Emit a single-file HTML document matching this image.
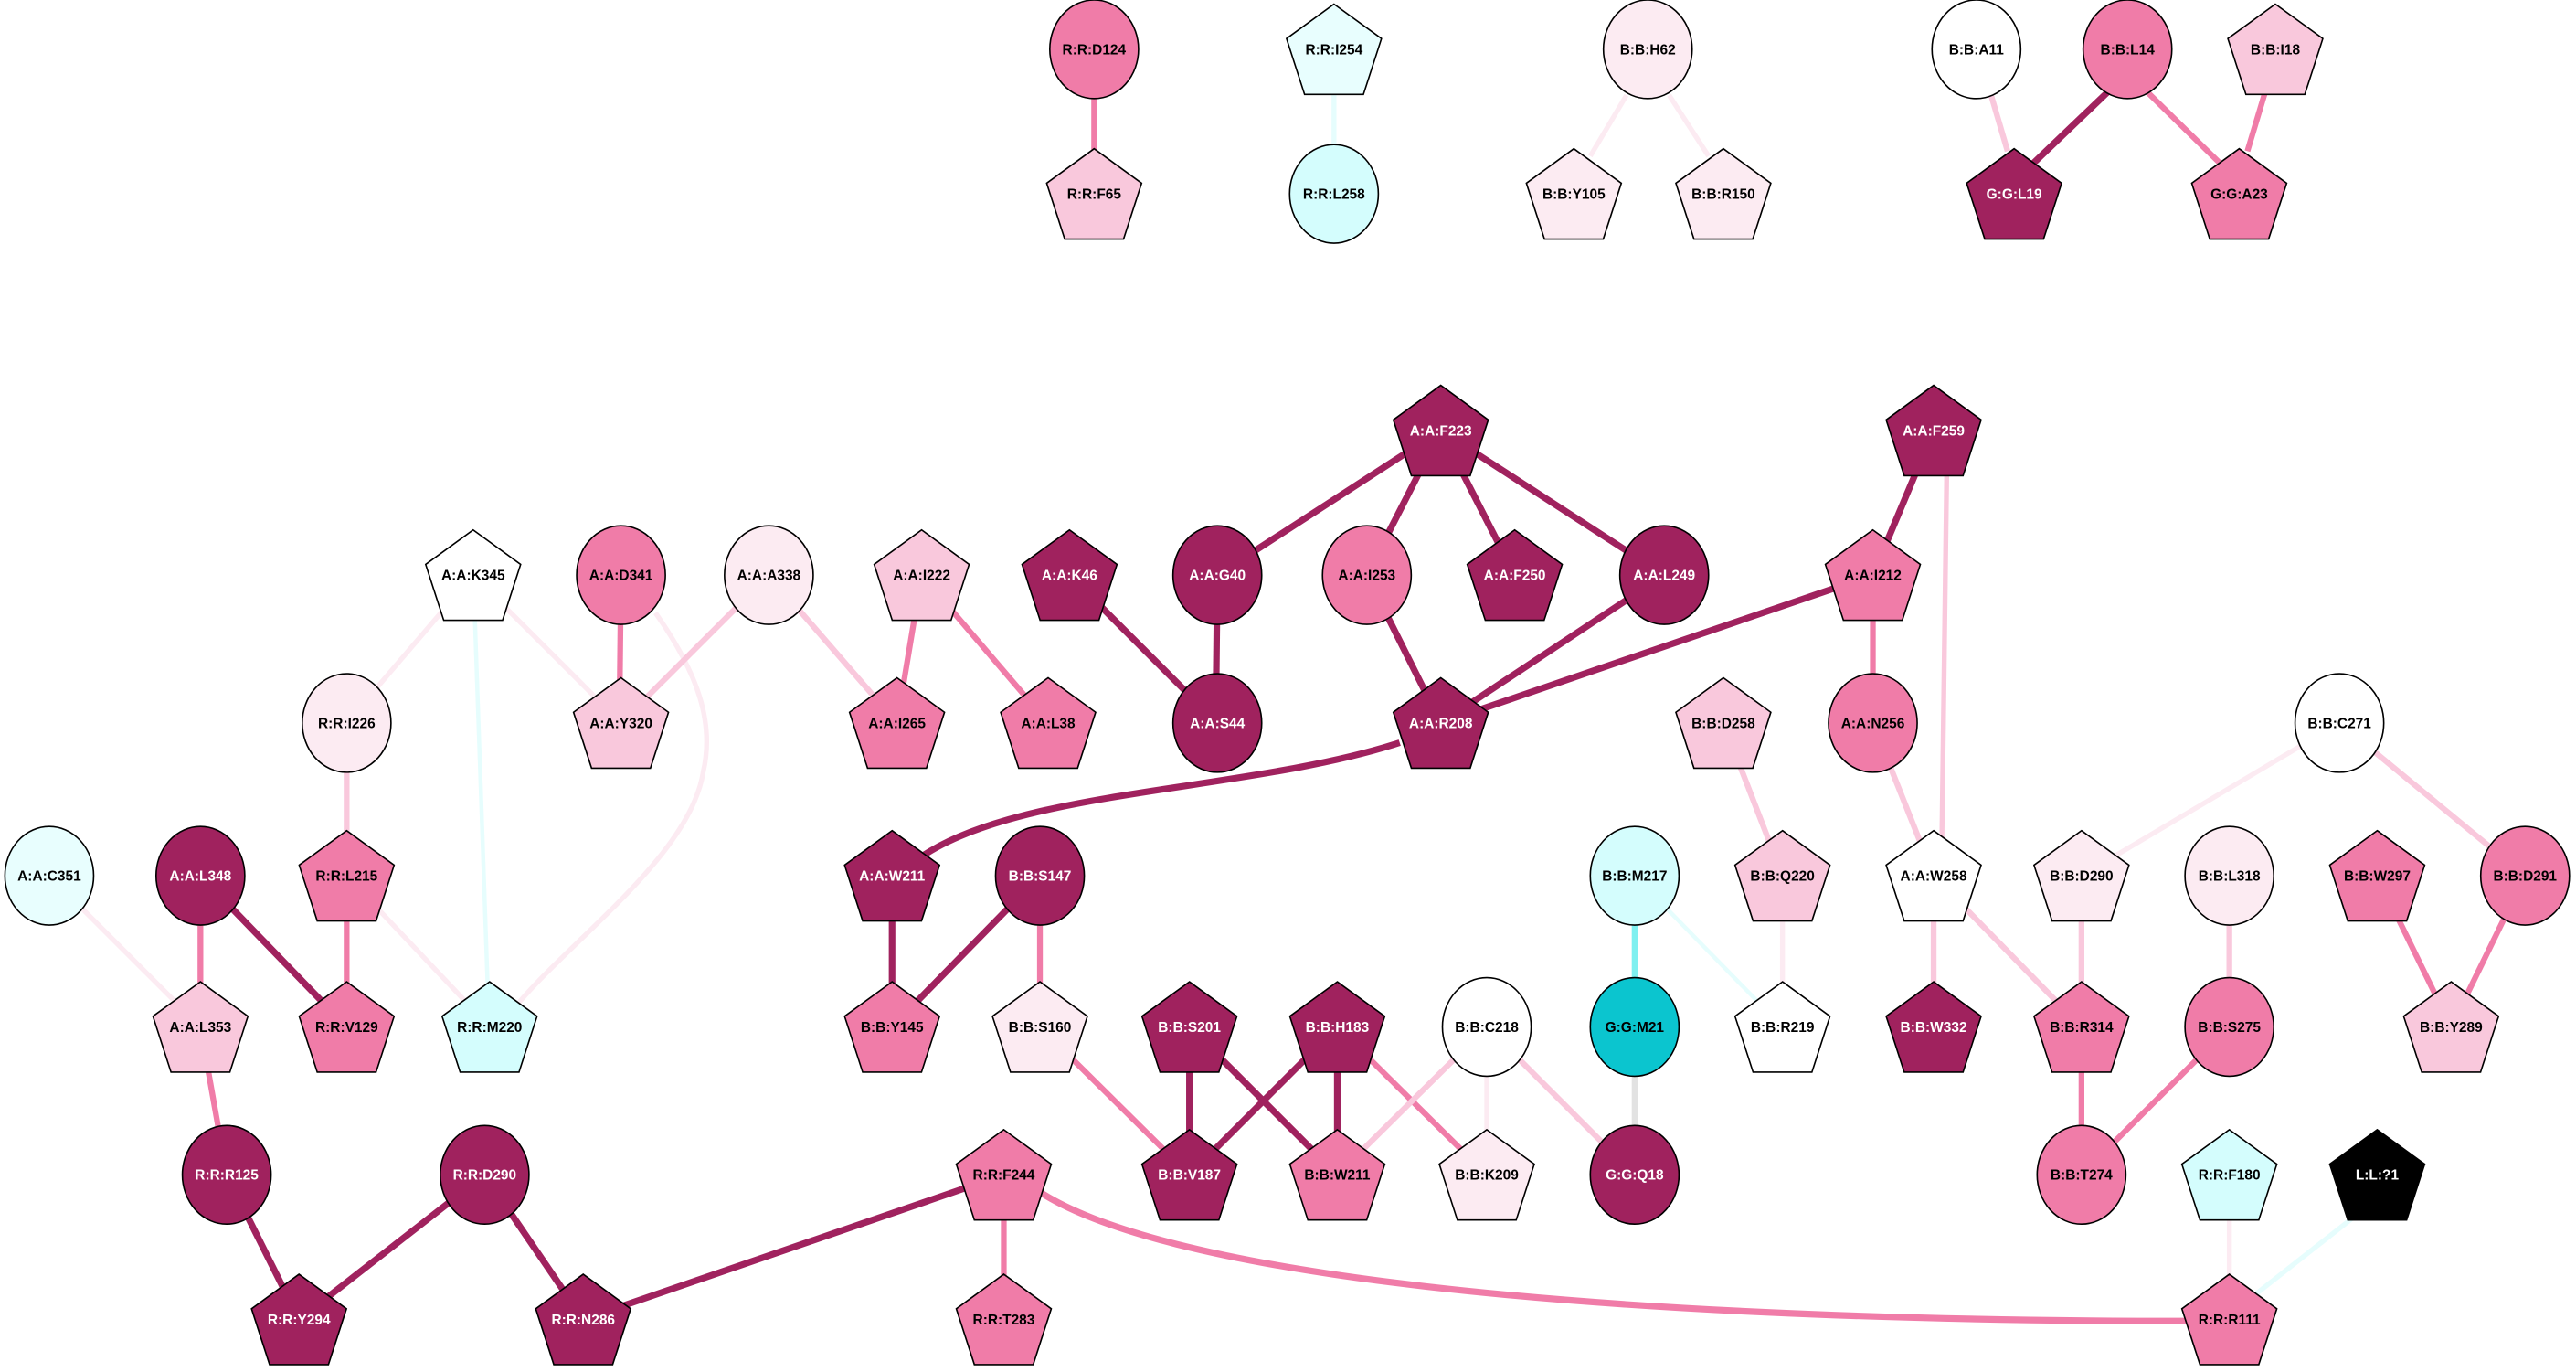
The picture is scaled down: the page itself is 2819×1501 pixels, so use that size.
<!DOCTYPE html>
<html><head><meta charset="utf-8"><style>
html,body{margin:0;padding:0;background:#fff;}
svg{display:block;}
text{font-family:"Liberation Sans",Arial,sans-serif;font-size:8.6px;font-weight:bold;text-anchor:middle;}
.w{fill:#fff}
</style></head><body>
<svg width="2819" height="1501" viewBox="0 0 1568 835" preserveAspectRatio="none" xmlns="http://www.w3.org/2000/svg">
<defs>
<polygon id="p" points="0,-27.5 28.9,-6.5 17.9,27.5 -17.9,27.5 -28.9,-6.5"/>
</defs>
<g fill="none" stroke-linecap="butt">
<line x1="666" y1="58" x2="666" y2="92" stroke="#f07ca8" stroke-width="3.5"/>
<line x1="812" y1="55" x2="812" y2="90" stroke="#e6fdfd" stroke-width="3"/>
<line x1="990" y1="58" x2="968" y2="95" stroke="#fcebf2" stroke-width="3"/>
<line x1="1016" y1="58" x2="1040" y2="95" stroke="#fcebf2" stroke-width="3"/>
<line x1="1212" y1="58" x2="1222" y2="92" stroke="#f9c8dc" stroke-width="3.5"/>
<line x1="1283" y1="56" x2="1237" y2="100" stroke="#a0225e" stroke-width="4"/>
<line x1="1307" y1="56" x2="1352" y2="100" stroke="#f07ca8" stroke-width="3.5"/>
<line x1="1380" y1="52" x2="1368" y2="92" stroke="#f07ca8" stroke-width="3.5"/>
<line x1="877" y1="262" x2="741" y2="350" stroke="#a0225e" stroke-width="4"/>
<line x1="877" y1="262" x2="832" y2="350" stroke="#a0225e" stroke-width="4"/>
<line x1="877" y1="262" x2="922" y2="350" stroke="#a0225e" stroke-width="4"/>
<line x1="877" y1="262" x2="1013" y2="350" stroke="#a0225e" stroke-width="4"/>
<line x1="1177" y1="262" x2="1140" y2="350" stroke="#a0225e" stroke-width="4"/>
<line x1="1185" y1="285" x2="1182" y2="512" stroke="#f9c8dc" stroke-width="3"/>
<line x1="288" y1="350" x2="211" y2="440" stroke="#fcebf2" stroke-width="3"/>
<line x1="288" y1="350" x2="378" y2="440" stroke="#fcebf2" stroke-width="3"/>
<line x1="289" y1="375" x2="297" y2="605" stroke="#e6fdfd" stroke-width="2.5"/>
<line x1="378" y1="350" x2="377" y2="440" stroke="#f07ca8" stroke-width="3.5"/>
<path d="M399,373 C425,410 435,440 428,470 C420,520 350,570 316,610" stroke="#fcebf2" stroke-width="3"/>
<line x1="468" y1="350" x2="378" y2="440" stroke="#f9c8dc" stroke-width="3.5"/>
<line x1="468" y1="350" x2="546" y2="440" stroke="#f9c8dc" stroke-width="3.5"/>
<line x1="561" y1="350" x2="546" y2="440" stroke="#f07ca8" stroke-width="3.5"/>
<line x1="561" y1="350" x2="638" y2="440" stroke="#f07ca8" stroke-width="3.5"/>
<line x1="651" y1="350" x2="741" y2="440" stroke="#a0225e" stroke-width="4"/>
<line x1="741" y1="350" x2="740" y2="440" stroke="#a0225e" stroke-width="4"/>
<line x1="832" y1="350" x2="877" y2="440" stroke="#a0225e" stroke-width="4"/>
<line x1="1013" y1="350" x2="877" y2="440" stroke="#a0225e" stroke-width="4"/>
<line x1="1140" y1="350" x2="877" y2="440" stroke="#a0225e" stroke-width="4"/>
<line x1="1140" y1="350" x2="1140" y2="440" stroke="#f07ca8" stroke-width="3.5"/>
<path d="M852,452 C760,482 620,480 560,522" stroke="#a0225e" stroke-width="4"/>
<line x1="1140" y1="440" x2="1177" y2="533" stroke="#f9c8dc" stroke-width="3.5"/>
<line x1="1424" y1="440" x2="1267" y2="533" stroke="#fcebf2" stroke-width="3"/>
<line x1="1424" y1="440" x2="1537" y2="533" stroke="#f9c8dc" stroke-width="3.5"/>
<line x1="1049" y1="440" x2="1085" y2="533" stroke="#f9c8dc" stroke-width="3.5"/>
<line x1="1085" y1="533" x2="1085" y2="625" stroke="#fcebf2" stroke-width="3"/>
<line x1="995" y1="533" x2="995" y2="625" stroke="#7ff0f0" stroke-width="3.5"/>
<line x1="995" y1="533" x2="1085" y2="625" stroke="#e6fdfd" stroke-width="2.5"/>
<line x1="995" y1="625" x2="995" y2="715" stroke="#e2e2e2" stroke-width="3.5"/>
<line x1="1177" y1="533" x2="1177" y2="625" stroke="#f9c8dc" stroke-width="3.5"/>
<line x1="1177" y1="533" x2="1267" y2="625" stroke="#f9c8dc" stroke-width="3.5"/>
<line x1="1267" y1="533" x2="1267" y2="625" stroke="#f9c8dc" stroke-width="3.5"/>
<line x1="1357" y1="533" x2="1357" y2="625" stroke="#f9c8dc" stroke-width="3.5"/>
<line x1="1447" y1="533" x2="1492" y2="625" stroke="#f07ca8" stroke-width="3.5"/>
<line x1="1537" y1="533" x2="1492" y2="625" stroke="#f07ca8" stroke-width="3.5"/>
<line x1="1267" y1="625" x2="1267" y2="715" stroke="#f07ca8" stroke-width="3.5"/>
<line x1="1357" y1="625" x2="1267" y2="715" stroke="#f07ca8" stroke-width="3.5"/>
<line x1="30" y1="533" x2="122" y2="625" stroke="#fcebf2" stroke-width="3"/>
<line x1="122" y1="533" x2="122" y2="625" stroke="#f07ca8" stroke-width="3.5"/>
<line x1="122" y1="533" x2="211" y2="625" stroke="#a0225e" stroke-width="4"/>
<line x1="211" y1="440" x2="211" y2="533" stroke="#f9c8dc" stroke-width="3.5"/>
<line x1="211" y1="533" x2="211" y2="625" stroke="#f07ca8" stroke-width="3.5"/>
<line x1="211" y1="533" x2="298" y2="625" stroke="#fcebf2" stroke-width="3"/>
<line x1="543" y1="533" x2="543" y2="625" stroke="#a0225e" stroke-width="4"/>
<line x1="633" y1="533" x2="543" y2="625" stroke="#a0225e" stroke-width="4"/>
<line x1="633" y1="533" x2="633" y2="625" stroke="#f07ca8" stroke-width="3.5"/>
<line x1="633" y1="625" x2="724" y2="715" stroke="#f07ca8" stroke-width="3.5"/>
<line x1="724" y1="625" x2="724" y2="715" stroke="#a0225e" stroke-width="4"/>
<line x1="724" y1="625" x2="814" y2="715" stroke="#a0225e" stroke-width="4"/>
<line x1="814" y1="625" x2="724" y2="715" stroke="#a0225e" stroke-width="4"/>
<line x1="814" y1="625" x2="814" y2="715" stroke="#a0225e" stroke-width="4"/>
<line x1="814" y1="625" x2="905" y2="715" stroke="#f07ca8" stroke-width="3.5"/>
<line x1="905" y1="625" x2="814" y2="715" stroke="#f9c8dc" stroke-width="3.5"/>
<line x1="905" y1="625" x2="905" y2="715" stroke="#fcebf2" stroke-width="3"/>
<line x1="905" y1="625" x2="995" y2="715" stroke="#f9c8dc" stroke-width="3.5"/>
<line x1="122" y1="625" x2="138" y2="715" stroke="#f07ca8" stroke-width="3.5"/>
<line x1="138" y1="715" x2="182" y2="803" stroke="#a0225e" stroke-width="4"/>
<line x1="295" y1="715" x2="182" y2="803" stroke="#a0225e" stroke-width="4"/>
<line x1="295" y1="715" x2="355" y2="803" stroke="#a0225e" stroke-width="4"/>
<line x1="611" y1="715" x2="355" y2="803" stroke="#a0225e" stroke-width="4"/>
<line x1="611" y1="715" x2="611" y2="803" stroke="#f07ca8" stroke-width="3.5"/>
<path d="M628,722 C700,775 960,804 1331,804" stroke="#f07ca8" stroke-width="4"/>
<line x1="1357" y1="740" x2="1357" y2="778" stroke="#fcebf2" stroke-width="3"/>
<line x1="1440" y1="735" x2="1370" y2="790" stroke="#e6fdfd" stroke-width="3"/>
</g>
<g stroke="#000" stroke-width="0.9">
<ellipse cx="666" cy="30" rx="27" ry="30" fill="#f07ca8"/>
<use href="#p" x="666" y="118" fill="#f9c8dc"/>
<use href="#p" x="812" y="30" fill="#e8fefe"/>
<ellipse cx="812" cy="118" rx="27" ry="30" fill="#d4fdfd"/>
<ellipse cx="1003" cy="30" rx="27" ry="30" fill="#fcebf2"/>
<use href="#p" x="958" y="118" fill="#fcebf2"/>
<use href="#p" x="1049" y="118" fill="#fcebf2"/>
<ellipse cx="1203" cy="30" rx="27" ry="30" fill="#fff"/>
<ellipse cx="1295" cy="30" rx="27" ry="30" fill="#f07ca8"/>
<use href="#p" x="1385" y="30" fill="#f9c8dc"/>
<use href="#p" x="1226" y="118" fill="#a0225e"/>
<use href="#p" x="1363" y="118" fill="#f07ca8"/>
<use href="#p" x="877" y="262" fill="#a0225e"/>
<use href="#p" x="1177" y="262" fill="#a0225e"/>
<use href="#p" x="288" y="350" fill="#fff"/>
<ellipse cx="378" cy="350" rx="27" ry="30" fill="#f07ca8"/>
<ellipse cx="468" cy="350" rx="27" ry="30" fill="#fcebf2"/>
<use href="#p" x="561" y="350" fill="#f9c8dc"/>
<use href="#p" x="651" y="350" fill="#a0225e"/>
<ellipse cx="741" cy="350" rx="27" ry="30" fill="#a0225e"/>
<ellipse cx="832" cy="350" rx="27" ry="30" fill="#f07ca8"/>
<use href="#p" x="922" y="350" fill="#a0225e"/>
<ellipse cx="1013" cy="350" rx="27" ry="30" fill="#a0225e"/>
<use href="#p" x="1140" y="350" fill="#f07ca8"/>
<ellipse cx="211" cy="440" rx="27" ry="30" fill="#fcebf2"/>
<use href="#p" x="378" y="440" fill="#f9c8dc"/>
<use href="#p" x="546" y="440" fill="#f07ca8"/>
<use href="#p" x="638" y="440" fill="#f07ca8"/>
<ellipse cx="741" cy="440" rx="27" ry="30" fill="#a0225e"/>
<use href="#p" x="877" y="440" fill="#a0225e"/>
<use href="#p" x="1049" y="440" fill="#f9c8dc"/>
<ellipse cx="1140" cy="440" rx="27" ry="30" fill="#f07ca8"/>
<ellipse cx="1424" cy="440" rx="27" ry="30" fill="#fff"/>
<ellipse cx="30" cy="533" rx="27" ry="30" fill="#e8fefe"/>
<ellipse cx="122" cy="533" rx="27" ry="30" fill="#a0225e"/>
<use href="#p" x="211" y="533" fill="#f07ca8"/>
<use href="#p" x="543" y="533" fill="#a0225e"/>
<ellipse cx="633" cy="533" rx="27" ry="30" fill="#a0225e"/>
<ellipse cx="995" cy="533" rx="27" ry="30" fill="#d4fdfd"/>
<use href="#p" x="1085" y="533" fill="#f9c8dc"/>
<use href="#p" x="1177" y="533" fill="#fff"/>
<use href="#p" x="1267" y="533" fill="#fcebf2"/>
<ellipse cx="1357" cy="533" rx="27" ry="30" fill="#fcebf2"/>
<use href="#p" x="1447" y="533" fill="#f07ca8"/>
<ellipse cx="1537" cy="533" rx="27" ry="30" fill="#f07ca8"/>
<use href="#p" x="122" y="625" fill="#f9c8dc"/>
<use href="#p" x="211" y="625" fill="#f07ca8"/>
<use href="#p" x="298" y="625" fill="#d4fdfd"/>
<use href="#p" x="543" y="625" fill="#f07ca8"/>
<use href="#p" x="633" y="625" fill="#fcebf2"/>
<use href="#p" x="724" y="625" fill="#a0225e"/>
<use href="#p" x="814" y="625" fill="#a0225e"/>
<ellipse cx="905" cy="625" rx="27" ry="30" fill="#fff"/>
<ellipse cx="995" cy="625" rx="27" ry="30" fill="#0bc5cf"/>
<use href="#p" x="1085" y="625" fill="#fff"/>
<use href="#p" x="1177" y="625" fill="#a0225e"/>
<use href="#p" x="1267" y="625" fill="#f07ca8"/>
<ellipse cx="1357" cy="625" rx="27" ry="30" fill="#f07ca8"/>
<use href="#p" x="1492" y="625" fill="#f9c8dc"/>
<ellipse cx="138" cy="715" rx="27" ry="30" fill="#a0225e"/>
<ellipse cx="295" cy="715" rx="27" ry="30" fill="#a0225e"/>
<use href="#p" x="611" y="715" fill="#f07ca8"/>
<use href="#p" x="724" y="715" fill="#a0225e"/>
<use href="#p" x="814" y="715" fill="#f07ca8"/>
<use href="#p" x="905" y="715" fill="#fcebf2"/>
<ellipse cx="995" cy="715" rx="27" ry="30" fill="#a0225e"/>
<ellipse cx="1267" cy="715" rx="27" ry="30" fill="#f07ca8"/>
<use href="#p" x="1357" y="715" fill="#d4fdfd"/>
<use href="#p" x="1447" y="715" fill="#000"/>
<use href="#p" x="182" y="803" fill="#a0225e"/>
<use href="#p" x="355" y="803" fill="#a0225e"/>
<use href="#p" x="611" y="803" fill="#f07ca8"/>
<use href="#p" x="1357" y="803" fill="#f07ca8"/>
</g>
<g>
<text x="666" y="33">R:R:D124</text>
<text x="666" y="121">R:R:F65</text>
<text x="812" y="33">R:R:I254</text>
<text x="812" y="121">R:R:L258</text>
<text x="1003" y="33">B:B:H62</text>
<text x="958" y="121">B:B:Y105</text>
<text x="1049" y="121">B:B:R150</text>
<text x="1203" y="33">B:B:A11</text>
<text x="1295" y="33">B:B:L14</text>
<text x="1385" y="33">B:B:I18</text>
<text x="1226" y="121" class="w">G:G:L19</text>
<text x="1363" y="121">G:G:A23</text>
<text x="877" y="265" class="w">A:A:F223</text>
<text x="1177" y="265" class="w">A:A:F259</text>
<text x="288" y="353">A:A:K345</text>
<text x="378" y="353">A:A:D341</text>
<text x="468" y="353">A:A:A338</text>
<text x="561" y="353">A:A:I222</text>
<text x="651" y="353" class="w">A:A:K46</text>
<text x="741" y="353" class="w">A:A:G40</text>
<text x="832" y="353">A:A:I253</text>
<text x="922" y="353" class="w">A:A:F250</text>
<text x="1013" y="353" class="w">A:A:L249</text>
<text x="1140" y="353">A:A:I212</text>
<text x="211" y="443">R:R:I226</text>
<text x="378" y="443">A:A:Y320</text>
<text x="546" y="443">A:A:I265</text>
<text x="638" y="443">A:A:L38</text>
<text x="741" y="443" class="w">A:A:S44</text>
<text x="877" y="443" class="w">A:A:R208</text>
<text x="1049" y="443">B:B:D258</text>
<text x="1140" y="443">A:A:N256</text>
<text x="1424" y="443">B:B:C271</text>
<text x="30" y="536">A:A:C351</text>
<text x="122" y="536" class="w">A:A:L348</text>
<text x="211" y="536">R:R:L215</text>
<text x="543" y="536" class="w">A:A:W211</text>
<text x="633" y="536" class="w">B:B:S147</text>
<text x="995" y="536">B:B:M217</text>
<text x="1085" y="536">B:B:Q220</text>
<text x="1177" y="536">A:A:W258</text>
<text x="1267" y="536">B:B:D290</text>
<text x="1357" y="536">B:B:L318</text>
<text x="1447" y="536">B:B:W297</text>
<text x="1537" y="536">B:B:D291</text>
<text x="122" y="628">A:A:L353</text>
<text x="211" y="628">R:R:V129</text>
<text x="298" y="628">R:R:M220</text>
<text x="543" y="628">B:B:Y145</text>
<text x="633" y="628">B:B:S160</text>
<text x="724" y="628" class="w">B:B:S201</text>
<text x="814" y="628" class="w">B:B:H183</text>
<text x="905" y="628">B:B:C218</text>
<text x="995" y="628">G:G:M21</text>
<text x="1085" y="628">B:B:R219</text>
<text x="1177" y="628" class="w">B:B:W332</text>
<text x="1267" y="628">B:B:R314</text>
<text x="1357" y="628">B:B:S275</text>
<text x="1492" y="628">B:B:Y289</text>
<text x="138" y="718" class="w">R:R:R125</text>
<text x="295" y="718" class="w">R:R:D290</text>
<text x="611" y="718">R:R:F244</text>
<text x="724" y="718" class="w">B:B:V187</text>
<text x="814" y="718">B:B:W211</text>
<text x="905" y="718">B:B:K209</text>
<text x="995" y="718" class="w">G:G:Q18</text>
<text x="1267" y="718">B:B:T274</text>
<text x="1357" y="718">R:R:F180</text>
<text x="1447" y="718" class="w">L:L:?1</text>
<text x="182" y="806" class="w">R:R:Y294</text>
<text x="355" y="806" class="w">R:R:N286</text>
<text x="611" y="806">R:R:T283</text>
<text x="1357" y="806">R:R:R111</text>
</g>
</svg>
</body></html>
